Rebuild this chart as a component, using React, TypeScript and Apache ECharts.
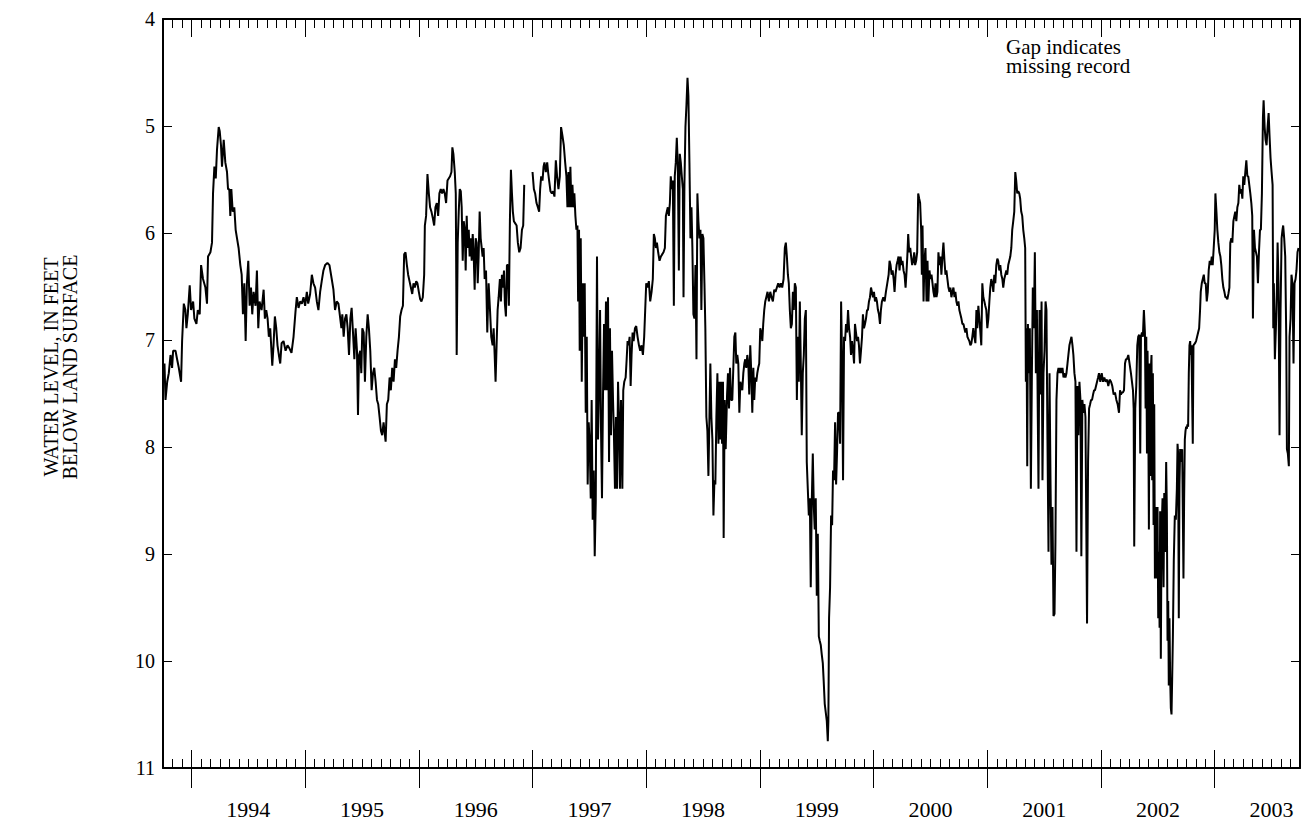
import React, { useEffect, useRef } from "react";
import * as echarts from "echarts";

// Water level, feet below land surface; x = decimal year
const levels1993to1995: [number, number][] = [
  [1993.763, 7.22], [1993.772, 7.56], [1993.787, 7.39], [1993.801, 7.31], [1993.816, 7.14], [1993.83, 7.26],
  [1993.839, 7.1], [1993.86, 7.1], [1993.874, 7.18], [1993.889, 7.26], [1993.909, 7.39], [1993.918, 7.01],
  [1993.933, 6.66], [1993.947, 6.72], [1993.956, 6.89], [1993.968, 6.76], [1993.985, 6.49], [1993.997, 6.72],
  [1994.015, 6.64], [1994.026, 6.8], [1994.044, 6.85], [1994.056, 6.72], [1994.073, 6.76], [1994.085, 6.3],
  [1994.102, 6.43], [1994.123, 6.51], [1994.137, 6.66], [1994.146, 6.22], [1994.167, 6.18], [1994.181, 6.09],
  [1994.19, 5.63], [1994.202, 5.38], [1994.214, 5.49], [1994.225, 5.22], [1994.24, 5.01], [1994.249, 5.05],
  [1994.26, 5.18], [1994.269, 5.38], [1994.284, 5.13], [1994.298, 5.34], [1994.313, 5.43], [1994.322, 5.59],
  [1994.333, 5.59], [1994.342, 5.84], [1994.351, 5.59], [1994.363, 5.8], [1994.377, 5.76], [1994.389, 5.97],
  [1994.401, 6.05], [1994.415, 6.14], [1994.43, 6.3], [1994.442, 6.39], [1994.453, 6.76], [1994.465, 6.47],
  [1994.477, 7.01], [1994.488, 6.47], [1994.5, 6.26], [1994.512, 6.68], [1994.524, 6.51], [1994.535, 6.76],
  [1994.547, 6.55], [1994.564, 6.68], [1994.576, 6.35], [1994.588, 6.89], [1994.599, 6.64], [1994.617, 6.72],
  [1994.635, 6.53], [1994.646, 6.8], [1994.658, 6.72], [1994.67, 6.8], [1994.681, 6.97], [1994.693, 6.89],
  [1994.711, 7.24], [1994.722, 7.05], [1994.734, 6.78], [1994.746, 6.89], [1994.757, 7.05], [1994.769, 7.14],
  [1994.781, 7.22], [1994.793, 7.03], [1994.81, 7.01], [1994.828, 7.1], [1994.845, 7.05], [1994.863, 7.08],
  [1994.88, 7.12], [1994.898, 6.97], [1994.915, 6.74], [1994.927, 6.6], [1994.942, 6.7], [1994.956, 6.64],
  [1994.971, 6.66], [1994.986, 6.6], [1995.0, 6.68], [1995.015, 6.55], [1995.027, 6.66], [1995.044, 6.57],
  [1995.059, 6.39], [1995.073, 6.47], [1995.088, 6.51], [1995.103, 6.64], [1995.117, 6.72], [1995.132, 6.55],
  [1995.146, 6.45], [1995.161, 6.35], [1995.176, 6.3], [1995.196, 6.28], [1995.214, 6.3], [1995.234, 6.43],
  [1995.249, 6.53], [1995.263, 6.72], [1995.278, 6.64], [1995.293, 6.66],
];

const levels1995to1996: [number, number][] = [
  [1995.319, 6.89], [1995.327, 6.76], [1995.339, 6.97], [1995.351, 6.8], [1995.363, 6.76], [1995.374, 6.89],
  [1995.386, 7.14], [1995.398, 6.8], [1995.409, 6.7], [1995.421, 6.93], [1995.433, 7.18], [1995.444, 6.89],
  [1995.456, 7.1], [1995.465, 7.7], [1995.474, 7.14], [1995.485, 7.1], [1995.494, 7.31], [1995.503, 6.89],
  [1995.515, 6.93], [1995.526, 7.39], [1995.538, 6.97], [1995.55, 6.76], [1995.561, 6.89], [1995.573, 7.1],
  [1995.585, 7.47], [1995.597, 7.31], [1995.608, 7.26], [1995.62, 7.39], [1995.632, 7.56], [1995.643, 7.6],
  [1995.655, 7.72], [1995.667, 7.85], [1995.678, 7.89], [1995.69, 7.77], [1995.702, 7.89], [1995.708, 7.95],
  [1995.719, 7.6], [1995.731, 7.56], [1995.743, 7.35], [1995.754, 7.47], [1995.766, 7.26], [1995.778, 7.39],
  [1995.79, 7.18], [1995.801, 7.26], [1995.813, 7.1], [1995.825, 6.97], [1995.836, 6.78], [1995.848, 6.72],
  [1995.86, 6.68], [1995.871, 6.2], [1995.883, 6.18], [1995.895, 6.3], [1995.906, 6.39], [1995.918, 6.45],
  [1995.93, 6.51], [1995.942, 6.57], [1995.953, 6.47], [1995.965, 6.51], [1995.977, 6.45], [1995.988, 6.47],
  [1996.0, 6.55], [1996.012, 6.62], [1996.023, 6.64], [1996.035, 6.6], [1996.047, 6.39], [1996.053, 5.93],
  [1996.064, 5.84], [1996.076, 5.45], [1996.088, 5.63], [1996.099, 5.76], [1996.111, 5.8], [1996.123, 5.86],
  [1996.135, 5.93], [1996.146, 5.76], [1996.158, 5.72], [1996.17, 5.84], [1996.181, 5.63], [1996.193, 5.59],
  [1996.205, 5.63], [1996.216, 5.59], [1996.228, 5.63], [1996.24, 5.72], [1996.252, 5.51], [1996.263, 5.49],
  [1996.275, 5.47], [1996.287, 5.43], [1996.295, 5.2], [1996.304, 5.26], [1996.316, 5.43], [1996.325, 5.63],
  [1996.333, 7.14], [1996.342, 6.09], [1996.351, 5.8], [1996.36, 5.59], [1996.369, 5.61], [1996.377, 5.76],
  [1996.386, 6.26], [1996.395, 5.89], [1996.404, 5.97], [1996.412, 6.35], [1996.421, 5.84], [1996.43, 6.14],
  [1996.439, 5.97], [1996.447, 6.22], [1996.456, 6.05], [1996.465, 6.26], [1996.474, 6.01], [1996.482, 6.18],
  [1996.491, 6.53], [1996.5, 6.05], [1996.509, 6.09], [1996.518, 6.47], [1996.526, 6.22], [1996.535, 5.8],
  [1996.544, 6.05], [1996.553, 6.14], [1996.561, 6.22], [1996.57, 6.14], [1996.579, 6.43], [1996.591, 6.35],
  [1996.602, 6.93], [1996.614, 6.47], [1996.626, 6.72], [1996.637, 6.97], [1996.649, 7.05], [1996.658, 6.89],
  [1996.667, 7.14], [1996.675, 7.39], [1996.684, 7.05], [1996.693, 6.72], [1996.702, 6.6], [1996.713, 6.43],
  [1996.722, 6.64], [1996.731, 6.39], [1996.74, 6.51], [1996.749, 6.35], [1996.757, 6.66], [1996.766, 6.78],
  [1996.775, 6.3], [1996.784, 6.3], [1996.792, 6.68], [1996.801, 5.89], [1996.81, 5.41], [1996.819, 5.63],
  [1996.827, 5.8], [1996.836, 5.89], [1996.848, 5.91], [1996.86, 5.93], [1996.871, 6.09], [1996.883, 6.18],
  [1996.895, 6.14], [1996.907, 5.97], [1996.918, 5.93], [1996.927, 5.55],
];

// missing record between the two segments
const gapAt = 1996.96;

const levels1997to1998: [number, number][] = [
  [1997.0, 5.43], [1997.012, 5.59], [1997.023, 5.63], [1997.035, 5.72], [1997.047, 5.76], [1997.058, 5.8],
  [1997.067, 5.59], [1997.076, 5.47], [1997.088, 5.51], [1997.097, 5.38], [1997.105, 5.34], [1997.117, 5.43],
  [1997.129, 5.34], [1997.137, 5.43], [1997.146, 5.51], [1997.158, 5.61], [1997.17, 5.63], [1997.181, 5.61],
  [1997.193, 5.66], [1997.205, 5.32], [1997.216, 5.47], [1997.228, 5.59], [1997.24, 5.47], [1997.251, 5.01],
  [1997.263, 5.09], [1997.275, 5.18], [1997.287, 5.34], [1997.298, 5.47], [1997.307, 5.76], [1997.316, 5.43],
  [1997.325, 5.76], [1997.333, 5.38], [1997.342, 5.76], [1997.351, 5.55], [1997.36, 5.76], [1997.368, 5.63],
  [1997.377, 5.84], [1997.386, 5.97], [1997.395, 5.93], [1997.401, 6.64], [1997.409, 5.97], [1997.415, 7.1],
  [1997.424, 6.05], [1997.433, 7.39], [1997.442, 6.47], [1997.45, 6.97], [1997.459, 6.47], [1997.468, 7.68],
  [1997.477, 6.97], [1997.485, 8.35], [1997.494, 7.77], [1997.503, 7.97], [1997.512, 8.48], [1997.52, 7.56],
  [1997.529, 8.68], [1997.538, 8.22], [1997.547, 9.02], [1997.556, 8.52], [1997.567, 6.22], [1997.576, 7.93],
  [1997.585, 7.43], [1997.594, 6.72], [1997.602, 7.81], [1997.611, 8.48], [1997.62, 7.51], [1997.629, 6.85],
  [1997.637, 7.47], [1997.646, 6.64], [1997.655, 7.47], [1997.664, 6.6], [1997.673, 8.14], [1997.681, 6.89],
  [1997.69, 7.89], [1997.699, 7.1], [1997.708, 7.56], [1997.716, 7.89], [1997.725, 8.39], [1997.734, 7.72],
  [1997.743, 8.39], [1997.752, 7.39], [1997.76, 7.72], [1997.769, 8.39], [1997.778, 7.56], [1997.79, 8.39],
  [1997.798, 7.47], [1997.807, 7.39], [1997.819, 7.35], [1997.828, 7.18], [1997.836, 7.01], [1997.845, 7.05],
  [1997.854, 6.97], [1997.863, 7.43], [1997.871, 7.14], [1997.88, 6.93], [1997.889, 7.01], [1997.901, 6.89],
  [1997.912, 6.87], [1997.924, 6.97], [1997.936, 7.05], [1997.947, 7.1], [1997.959, 7.05], [1997.971, 7.14],
  [1997.982, 6.97], [1997.991, 6.72], [1998.0, 6.47], [1998.012, 6.51], [1998.023, 6.45], [1998.035, 6.64],
  [1998.047, 6.55], [1998.058, 6.43], [1998.067, 6.01], [1998.076, 6.05], [1998.085, 6.14], [1998.094, 6.09],
  [1998.105, 6.18], [1998.117, 6.26], [1998.129, 6.22], [1998.14, 6.2], [1998.152, 6.18], [1998.164, 6.14],
  [1998.173, 5.84], [1998.181, 5.8], [1998.19, 5.76], [1998.199, 5.84], [1998.208, 5.72], [1998.216, 5.47],
  [1998.225, 5.59], [1998.234, 5.51], [1998.243, 6.68], [1998.251, 5.47], [1998.26, 5.34], [1998.269, 5.11],
  [1998.278, 5.38], [1998.287, 6.35], [1998.295, 5.26], [1998.304, 5.34], [1998.313, 5.47], [1998.322, 5.59],
  [1998.328, 6.6], [1998.336, 5.55], [1998.345, 5.01], [1998.354, 4.8], [1998.363, 4.55], [1998.371, 4.72],
  [1998.38, 5.34], [1998.389, 6.05], [1998.398, 5.76], [1998.406, 6.14], [1998.415, 6.76], [1998.424, 6.8],
  [1998.433, 6.3], [1998.442, 7.18], [1998.45, 5.63], [1998.459, 5.89], [1998.468, 6.05], [1998.477, 5.97],
  [1998.485, 6.72], [1998.494, 6.01], [1998.503, 6.05], [1998.512, 6.47], [1998.52, 6.89], [1998.529, 7.72],
  [1998.538, 7.85], [1998.547, 8.27], [1998.556, 7.72], [1998.564, 7.22], [1998.573, 7.72], [1998.582, 7.93],
  [1998.591, 8.64], [1998.6, 8.31], [1998.608, 8.35], [1998.617, 7.72], [1998.626, 7.31], [1998.635, 7.97],
  [1998.643, 7.39],
];

const levels1998to2000: [number, number][] = [
  [1998.649, 7.93], [1998.658, 7.39], [1998.667, 7.97], [1998.675, 7.39], [1998.681, 8.85], [1998.69, 7.56],
  [1998.699, 8.02], [1998.711, 7.51], [1998.719, 7.31], [1998.728, 7.64], [1998.737, 7.26], [1998.746, 7.56],
  [1998.757, 7.56], [1998.766, 7.26], [1998.775, 6.97], [1998.784, 6.93], [1998.792, 7.22], [1998.801, 7.14],
  [1998.81, 7.22], [1998.819, 7.68], [1998.828, 7.39], [1998.836, 7.43], [1998.845, 7.47], [1998.854, 7.31],
  [1998.863, 7.22], [1998.871, 7.18], [1998.88, 7.26], [1998.889, 7.14], [1998.898, 7.22], [1998.906, 7.51],
  [1998.915, 7.05], [1998.924, 7.31], [1998.933, 7.68], [1998.942, 7.26], [1998.95, 7.56], [1998.959, 7.35],
  [1998.968, 7.39], [1998.977, 7.31], [1998.985, 7.26], [1998.994, 7.22], [1999.003, 6.89], [1999.012, 6.93],
  [1999.021, 7.01], [1999.029, 6.85], [1999.038, 6.72], [1999.047, 6.64], [1999.056, 6.6], [1999.067, 6.55],
  [1999.079, 6.64], [1999.091, 6.55], [1999.102, 6.6], [1999.114, 6.64], [1999.126, 6.53], [1999.137, 6.55],
  [1999.149, 6.51], [1999.161, 6.47], [1999.173, 6.51], [1999.184, 6.47], [1999.196, 6.51], [1999.208, 6.43],
  [1999.219, 6.14], [1999.228, 6.09], [1999.237, 6.22], [1999.246, 6.39], [1999.254, 6.47], [1999.263, 6.72],
  [1999.272, 6.89], [1999.281, 6.85], [1999.29, 6.55], [1999.298, 6.72], [1999.307, 6.47], [1999.316, 6.51],
  [1999.325, 7.56], [1999.333, 6.97], [1999.342, 7.39], [1999.351, 6.64], [1999.36, 7.26], [1999.368, 7.89],
  [1999.377, 7.31], [1999.386, 7.14], [1999.395, 6.8], [1999.404, 6.72], [1999.412, 8.14], [1999.421, 8.39],
  [1999.43, 8.64], [1999.439, 8.48], [1999.447, 9.31], [1999.456, 8.52], [1999.465, 8.06], [1999.474, 8.56],
  [1999.482, 8.77], [1999.491, 8.48], [1999.5, 9.39], [1999.509, 8.81], [1999.518, 9.77], [1999.526, 9.81],
  [1999.535, 9.85], [1999.544, 9.94], [1999.553, 10.02], [1999.561, 10.19], [1999.57, 10.4], [1999.579, 10.48],
  [1999.588, 10.56], [1999.597, 10.75], [1999.602, 10.56], [1999.608, 9.6], [1999.617, 9.31], [1999.626, 8.64],
  [1999.635, 8.73], [1999.643, 8.22], [1999.652, 8.31], [1999.661, 7.77], [1999.67, 8.35], [1999.678, 8.06],
  [1999.687, 7.68], [1999.696, 7.68], [1999.705, 7.97], [1999.714, 6.64], [1999.722, 7.14], [1999.731, 8.31],
  [1999.74, 6.97], [1999.749, 7.01], [1999.757, 6.85], [1999.766, 6.93], [1999.775, 6.72], [1999.784, 6.89],
  [1999.793, 6.97], [1999.801, 7.14], [1999.81, 7.01], [1999.819, 7.1], [1999.828, 7.22], [1999.836, 6.85],
  [1999.845, 6.93], [1999.854, 7.01], [1999.863, 6.97], [1999.871, 7.05], [1999.88, 7.22], [1999.889, 7.1],
  [1999.898, 6.97], [1999.906, 6.76], [1999.915, 6.89], [1999.924, 6.85], [1999.933, 6.8], [1999.942, 6.72],
  [1999.95, 6.72], [1999.959, 6.64], [1999.968, 6.6], [1999.977, 6.51], [1999.985, 6.55], [1999.994, 6.6],
  [2000.003, 6.55], [2000.012, 6.64], [2000.021, 6.6], [2000.029, 6.64], [2000.038, 6.72], [2000.047, 6.76],
  [2000.056, 6.85], [2000.064, 6.72], [2000.073, 6.64], [2000.085, 6.6], [2000.097, 6.64], [2000.108, 6.55],
  [2000.12, 6.47], [2000.132, 6.39], [2000.14, 6.26], [2000.149, 6.3], [2000.158, 6.39], [2000.167, 6.35],
  [2000.176, 6.43], [2000.184, 6.55], [2000.193, 6.39], [2000.202, 6.3], [2000.211, 6.26], [2000.219, 6.22],
  [2000.228, 6.35], [2000.237, 6.22], [2000.246, 6.3], [2000.254, 6.26], [2000.263, 6.35], [2000.272, 6.39],
  [2000.281, 6.51], [2000.29, 6.35], [2000.298, 6.18],
];

const levels2000to2001: [number, number][] = [
  [2000.304, 6.01], [2000.313, 6.18], [2000.322, 6.14], [2000.33, 6.22], [2000.339, 6.3], [2000.348, 6.26],
  [2000.357, 6.18], [2000.365, 6.3], [2000.374, 6.26], [2000.383, 6.18], [2000.392, 5.63], [2000.401, 5.68],
  [2000.409, 5.72], [2000.418, 5.97], [2000.424, 6.39], [2000.43, 5.93], [2000.439, 6.64], [2000.447, 6.26],
  [2000.456, 6.14], [2000.465, 6.64], [2000.474, 6.26], [2000.482, 6.64], [2000.491, 6.35], [2000.5, 6.43],
  [2000.509, 6.39], [2000.518, 6.47], [2000.526, 6.55], [2000.535, 6.6], [2000.544, 6.47], [2000.553, 6.6],
  [2000.561, 6.55], [2000.57, 6.18], [2000.579, 6.3], [2000.588, 6.22], [2000.596, 6.39], [2000.605, 6.22],
  [2000.614, 6.09], [2000.623, 6.26], [2000.632, 6.39], [2000.64, 6.35], [2000.649, 6.43], [2000.658, 6.51],
  [2000.667, 6.55], [2000.675, 6.51], [2000.684, 6.6], [2000.693, 6.55], [2000.702, 6.51], [2000.711, 6.6],
  [2000.719, 6.55], [2000.728, 6.64], [2000.737, 6.68], [2000.746, 6.64], [2000.754, 6.72], [2000.763, 6.76],
  [2000.772, 6.8], [2000.781, 6.85], [2000.79, 6.85], [2000.798, 6.89], [2000.807, 6.93], [2000.816, 6.89],
  [2000.825, 6.97], [2000.833, 6.99], [2000.842, 7.01], [2000.851, 7.05], [2000.86, 7.03], [2000.868, 6.97],
  [2000.877, 6.89], [2000.886, 6.97], [2000.895, 7.03], [2000.904, 6.72], [2000.912, 6.89], [2000.921, 6.68],
  [2000.93, 6.8], [2000.939, 6.93], [2000.947, 7.05], [2000.956, 6.47], [2000.965, 6.6], [2000.974, 6.64],
  [2000.982, 6.68], [2000.991, 6.72], [2001.0, 6.89], [2001.009, 6.8], [2001.018, 6.64], [2001.026, 6.51],
  [2001.035, 6.43], [2001.044, 6.47], [2001.053, 6.55], [2001.061, 6.39], [2001.07, 6.47], [2001.079, 6.3],
  [2001.088, 6.24], [2001.096, 6.26], [2001.105, 6.35], [2001.114, 6.3], [2001.123, 6.39], [2001.132, 6.43],
  [2001.14, 6.51], [2001.149, 6.43], [2001.158, 6.39], [2001.167, 6.35], [2001.175, 6.39], [2001.184, 6.3],
  [2001.193, 6.26], [2001.202, 6.22], [2001.211, 6.14], [2001.219, 5.97], [2001.228, 5.89], [2001.237, 5.8],
  [2001.246, 5.43], [2001.254, 5.51], [2001.263, 5.63], [2001.272, 5.61], [2001.281, 5.63], [2001.289, 5.68],
  [2001.298, 5.8], [2001.307, 5.84], [2001.316, 5.97], [2001.325, 6.05], [2001.333, 6.14], [2001.339, 7.39],
  [2001.345, 6.89], [2001.351, 8.18], [2001.357, 6.85], [2001.365, 7.31], [2001.374, 6.89], [2001.383, 8.39],
  [2001.392, 7.31], [2001.4, 6.51], [2001.409, 6.89], [2001.418, 6.18], [2001.427, 7.31], [2001.436, 6.72],
  [2001.444, 7.72], [2001.45, 8.39], [2001.459, 6.72], [2001.468, 7.51], [2001.477, 6.64], [2001.485, 8.31],
  [2001.494, 7.31], [2001.503, 7.1], [2001.512, 6.64], [2001.52, 6.72], [2001.529, 7.93], [2001.538, 8.98],
  [2001.547, 7.31], [2001.556, 8.35], [2001.564, 9.1], [2001.573, 8.56], [2001.582, 9.58], [2001.591, 9.56],
  [2001.599, 8.89], [2001.608, 7.56], [2001.617, 7.31], [2001.626, 7.26], [2001.634, 7.31], [2001.643, 7.26],
  [2001.652, 7.31], [2001.661, 7.26], [2001.67, 7.35], [2001.678, 7.31], [2001.687, 7.35], [2001.696, 7.31],
  [2001.705, 7.22], [2001.713, 7.14], [2001.722, 7.05], [2001.731, 7.01], [2001.74, 6.97], [2001.749, 7.05],
  [2001.757, 7.14], [2001.766, 7.31], [2001.775, 7.39], [2001.784, 8.98], [2001.792, 7.43], [2001.801, 7.89],
  [2001.81, 7.39], [2001.819, 7.56], [2001.827, 9.02], [2001.836, 7.56], [2001.845, 7.68], [2001.854, 7.6],
  [2001.863, 7.72], [2001.871, 8.81], [2001.877, 9.65], [2001.886, 8.14], [2001.895, 7.64], [2001.904, 7.6],
  [2001.912, 7.56], [2001.921, 7.56], [2001.93, 7.51], [2001.939, 7.47], [2001.947, 7.47], [2001.956, 7.43],
  [2001.965, 7.39], [2001.974, 7.35],
];

const levels2002to2003: [number, number][] = [
  [2001.982, 7.31], [2001.994, 7.39], [2002.006, 7.31], [2002.018, 7.39], [2002.029, 7.35], [2002.041, 7.39],
  [2002.053, 7.37], [2002.064, 7.43], [2002.076, 7.37], [2002.088, 7.39], [2002.099, 7.43], [2002.111, 7.51],
  [2002.123, 7.49], [2002.135, 7.56], [2002.146, 7.6], [2002.158, 7.68], [2002.167, 7.47], [2002.175, 7.51],
  [2002.184, 7.49], [2002.193, 7.49], [2002.202, 7.47], [2002.211, 7.22], [2002.219, 7.18], [2002.228, 7.18],
  [2002.24, 7.14], [2002.251, 7.22], [2002.263, 7.31], [2002.272, 7.39], [2002.281, 7.47], [2002.287, 7.64],
  [2002.292, 8.93], [2002.301, 7.64], [2002.31, 7.43], [2002.319, 7.05], [2002.327, 6.97], [2002.336, 6.95],
  [2002.345, 8.06], [2002.351, 6.97], [2002.36, 6.93], [2002.368, 6.97], [2002.377, 6.72], [2002.386, 6.93],
  [2002.392, 7.64], [2002.398, 6.97], [2002.404, 8.06], [2002.409, 7.1], [2002.415, 7.56], [2002.421, 8.77],
  [2002.427, 7.22], [2002.433, 8.27], [2002.439, 7.26], [2002.444, 7.14], [2002.45, 8.31], [2002.456, 7.31],
  [2002.462, 8.73], [2002.468, 7.6], [2002.474, 9.23], [2002.48, 8.73], [2002.485, 8.56], [2002.491, 9.23],
  [2002.497, 8.56], [2002.503, 9.6], [2002.509, 8.98], [2002.515, 9.69], [2002.52, 8.6], [2002.526, 9.98],
  [2002.532, 8.81], [2002.541, 8.48], [2002.55, 9.31], [2002.556, 8.43], [2002.564, 8.98], [2002.573, 8.14],
  [2002.579, 8.6], [2002.585, 9.81], [2002.591, 9.44], [2002.596, 10.23], [2002.602, 9.6], [2002.608, 10.15],
  [2002.614, 10.44], [2002.62, 10.5], [2002.626, 10.15], [2002.632, 9.77], [2002.64, 9.06], [2002.649, 8.64],
  [2002.658, 8.68], [2002.667, 8.39], [2002.673, 7.97], [2002.678, 8.06], [2002.684, 9.6], [2002.69, 8.35],
  [2002.696, 8.02], [2002.702, 8.06], [2002.708, 8.14], [2002.714, 8.02], [2002.719, 8.56], [2002.725, 9.23],
  [2002.731, 8.48], [2002.737, 7.93], [2002.743, 7.85], [2002.749, 7.81], [2002.754, 7.83], [2002.76, 7.79],
  [2002.766, 7.81], [2002.772, 7.31], [2002.778, 7.05], [2002.784, 7.01], [2002.79, 7.14], [2002.795, 7.05],
  [2002.801, 7.05], [2002.807, 7.97], [2002.813, 7.05], [2002.819, 7.05], [2002.827, 7.03], [2002.836, 7.01],
  [2002.845, 6.97], [2002.854, 6.93], [2002.863, 6.89], [2002.871, 6.72], [2002.877, 6.55], [2002.886, 6.47],
  [2002.895, 6.43], [2002.904, 6.39], [2002.912, 6.47], [2002.921, 6.47], [2002.93, 6.64], [2002.939, 6.55],
  [2002.947, 6.35], [2002.956, 6.26], [2002.965, 6.3], [2002.974, 6.22], [2002.982, 6.3], [2002.991, 6.14],
  [2003.0, 5.97], [2003.006, 5.63], [2003.015, 5.8], [2003.023, 5.97], [2003.032, 6.09], [2003.041, 6.18],
  [2003.05, 6.22], [2003.058, 6.3], [2003.067, 6.43], [2003.076, 6.51], [2003.085, 6.55], [2003.094, 6.6],
  [2003.102, 6.6], [2003.111, 6.62], [2003.12, 6.57], [2003.129, 6.51], [2003.137, 6.09], [2003.146, 6.05],
  [2003.155, 6.09], [2003.164, 5.89], [2003.173, 5.84], [2003.181, 5.8], [2003.19, 5.89], [2003.199, 5.76],
  [2003.208, 5.72], [2003.216, 5.55], [2003.225, 5.63], [2003.234, 5.59], [2003.243, 5.68], [2003.251, 5.47],
  [2003.26, 5.55], [2003.269, 5.43], [2003.278, 5.32], [2003.287, 5.47], [2003.295, 5.47], [2003.304, 5.55],
  [2003.313, 5.63], [2003.322, 5.72], [2003.33, 5.84], [2003.336, 6.8], [2003.345, 5.97], [2003.354, 6.14],
  [2003.363, 6.18], [2003.371, 6.22], [2003.38, 6.47], [2003.389, 6.18], [2003.398, 5.97], [2003.406, 5.97],
  [2003.415, 5.63], [2003.424, 4.92], [2003.43, 4.76], [2003.439, 5.01], [2003.447, 5.13], [2003.456, 5.18],
  [2003.465, 5.01], [2003.474, 4.88], [2003.482, 5.09], [2003.491, 5.3], [2003.5, 5.43], [2003.509, 5.55],
  [2003.515, 6.89], [2003.52, 6.47], [2003.529, 7.18], [2003.538, 6.89], [2003.547, 6.51], [2003.553, 6.09],
  [2003.561, 6.47], [2003.57, 7.89], [2003.579, 6.72], [2003.588, 6.05], [2003.596, 5.97], [2003.602, 5.93],
  [2003.611, 6.05], [2003.62, 6.22], [2003.629, 6.97], [2003.635, 8.02], [2003.643, 8.06], [2003.652, 8.18],
  [2003.658, 6.97], [2003.667, 6.8], [2003.675, 6.39], [2003.684, 6.47], [2003.693, 7.22], [2003.702, 6.47],
  [2003.711, 6.43], [2003.719, 6.35], [2003.728, 6.18], [2003.737, 6.14],
];

const yearTicks = [1994, 1995, 1996, 1997, 1998, 1999, 2000, 2001, 2002, 2003];
const yearLabels = ["1994", "1995", "1996", "1997", "1998", "1999", "2000", "2001", "2002", "2003"];
const X_MIN = 1993.75;
const X_MAX = 2003.75;
const Y_MIN = 4;
const Y_MAX = 11;
const yTitleLines = ["WATER LEVEL, IN FEET", "BELOW LAND SURFACE"];
const noteLines = ["Gap indicates", "missing record"];

const FONT = "'Liberation Serif', 'Times New Roman', serif";

export default function App() {
  const ref = useRef<HTMLDivElement>(null);

  useEffect(() => {
    if (!ref.current) return;
    const chart = echarts.init(ref.current, undefined, { renderer: "svg" });

    const monthTicks: number[] = [];
    for (let k = 1; k < 120; k++) {
      if (k % 12 === 3) continue; // year boundaries drawn as major ticks
      monthTicks.push(X_MIN + k / 12);
    }
    const labelPositions = yearTicks.map((y) => y + 0.5);

    const seriesData: (number | null)[][] = [
      ...levels1993to1995,
      ...levels1995to1996,
      [gapAt, null],
      ...levels1997to1998,
      ...levels1998to2000,
      ...levels2000to2001,
      ...levels2002to2003,
    ];

    const gridRect = { left: 163, top: 19, right: 4, bottom: 56 };
    const black = "#000";

    const hiddenX = (gridIndex: number, position: string, extra: any) => ({
      type: "value",
      gridIndex,
      position,
      min: X_MIN,
      max: X_MAX,
      axisLine: { show: false },
      axisLabel: { show: false },
      splitLine: { show: false },
      ...extra,
    });

    chart.setOption({
      animation: false,
      backgroundColor: "#fff",
      grid: [{ ...gridRect }, { ...gridRect }, { ...gridRect }],
      xAxis: [
        {
          type: "value",
          gridIndex: 0,
          position: "bottom",
          min: X_MIN,
          max: X_MAX,
          axisLine: { show: true, onZero: false, lineStyle: { color: black, width: 2 } },
          axisTick: {
            show: true,
            inside: true,
            length: 18,
            customValues: yearTicks,
            lineStyle: { color: black, width: 1 },
          },
          axisLabel: {
            show: true,
            customValues: labelPositions,
            formatter: (v: number) => yearLabels[Math.round(v - 0.5) - 1994] ?? "",
            color: black,
            fontFamily: FONT,
            fontSize: 22,
            margin: 30,
          },
          splitLine: { show: false },
        },
        {
          type: "value",
          gridIndex: 0,
          position: "top",
          min: X_MIN,
          max: X_MAX,
          axisLine: { show: true, onZero: false, lineStyle: { color: black, width: 2 } },
          axisTick: {
            show: true,
            inside: true,
            length: 18,
            customValues: yearTicks,
            lineStyle: { color: black, width: 1 },
          },
          axisLabel: { show: false },
          splitLine: { show: false },
        },
        hiddenX(1, "bottom", {
          axisTick: {
            show: true,
            inside: false,
            length: 20,
            customValues: yearTicks,
            lineStyle: { color: black, width: 1 },
          },
        }),
        hiddenX(1, "top", {
          axisTick: {
            show: true,
            inside: true,
            length: 9,
            customValues: monthTicks,
            lineStyle: { color: black, width: 1 },
          },
        }),
        hiddenX(2, "bottom", {
          axisTick: {
            show: true,
            inside: true,
            length: 9,
            customValues: monthTicks,
            lineStyle: { color: black, width: 1 },
          },
        }),
      ],
      yAxis: [
        {
          type: "value",
          gridIndex: 0,
          position: "left",
          inverse: true,
          min: Y_MIN,
          max: Y_MAX,
          interval: 1,
          axisLine: { show: true, onZero: false, lineStyle: { color: black, width: 2 } },
          axisTick: { show: true, inside: true, length: 9, lineStyle: { color: black, width: 1 } },
          axisLabel: { show: true, color: black, fontFamily: FONT, fontSize: 20, margin: 8 },
          splitLine: { show: false },
        },
        {
          type: "value",
          gridIndex: 0,
          position: "right",
          inverse: true,
          min: Y_MIN,
          max: Y_MAX,
          interval: 1,
          axisLine: { show: true, onZero: false, lineStyle: { color: black, width: 2 } },
          axisTick: { show: true, inside: true, length: 9, lineStyle: { color: black, width: 1 } },
          axisLabel: { show: false },
          splitLine: { show: false },
        },
        { type: "value", gridIndex: 1, min: Y_MIN, max: Y_MAX, show: false },
        { type: "value", gridIndex: 2, min: Y_MIN, max: Y_MAX, show: false },
      ],
      series: [
        {
          type: "line",
          xAxisIndex: 0,
          yAxisIndex: 0,
          data: seriesData,
          showSymbol: false,
          symbol: "none",
          connectNulls: false,
          lineStyle: { color: black, width: 2 },
          silent: true,
        },
      ],
      graphic: [
        {
          type: "text",
          x: 51,
          y: 367,
          rotation: Math.PI / 2,
          style: {
            text: yTitleLines[0],
            fill: black,
            font: `20px ${FONT}`,
            textAlign: "center",
            textVerticalAlign: "middle",
          },
        },
        {
          type: "text",
          x: 70,
          y: 367,
          rotation: Math.PI / 2,
          style: {
            text: yTitleLines[1],
            fill: black,
            font: `20px ${FONT}`,
            textAlign: "center",
            textVerticalAlign: "middle",
          },
        },
        {
          type: "text",
          x: 1006,
          y: 37,
          style: {
            text: noteLines.join("\n"),
            fill: black,
            font: `21px ${FONT}`,
            lineHeight: 19,
            textAlign: "left",
            textVerticalAlign: "top",
          },
        },
      ],
    });

    return () => chart.dispose();
  }, []);

  return (
    <div
      ref={ref}
      style={{ position: "absolute", left: 0, top: 0, width: 1304, height: 824 }}
    />
  );
}
